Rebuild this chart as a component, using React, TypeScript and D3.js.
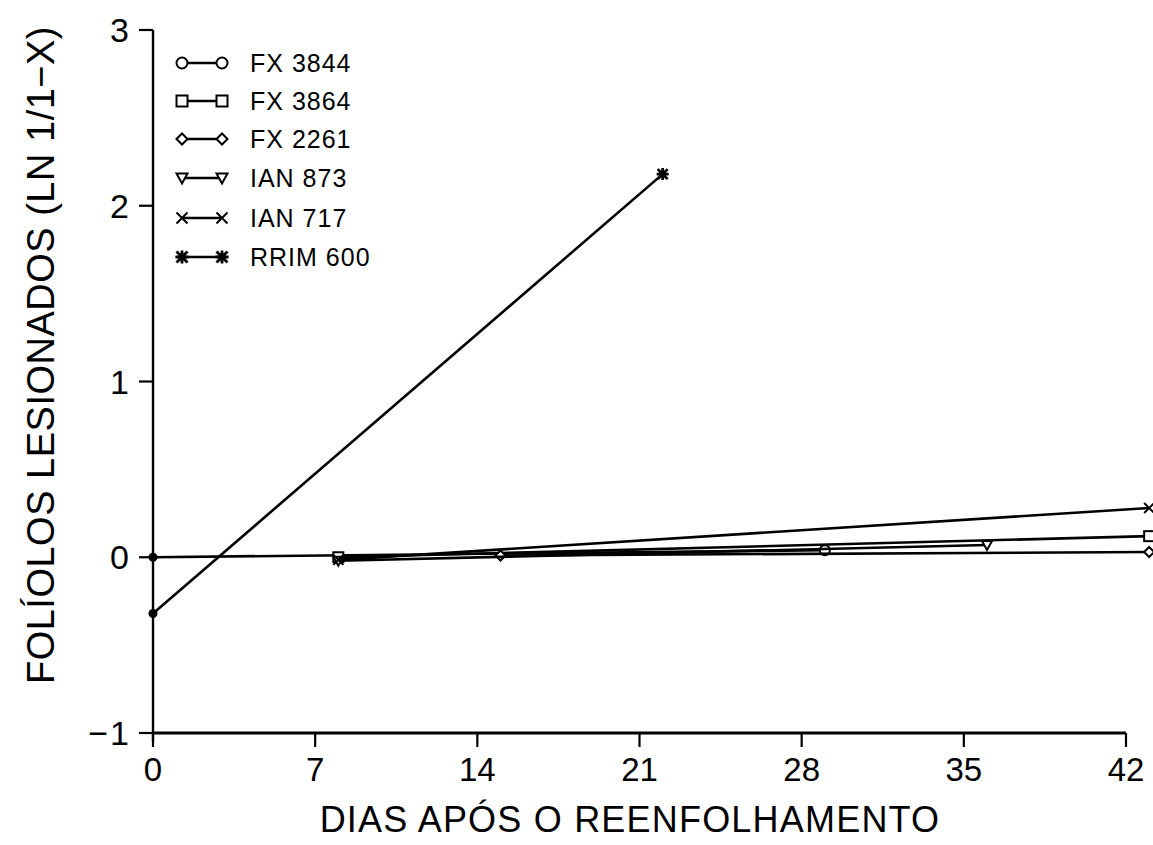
import React from "react";
import * as d3 from "d3";

const seriesNames = ["FX 3844", "FX 3864", "FX 2261", "IAN 873", "IAN 717", "RRIM 600"];
const symbols = ["circle", "square", "diamond", "triangle", "cross", "star"];
const fx3844Days = [0, 29];
const fx3844Vals = [0.0, 0.04];
const fx3864Days = [8, 43];
const fx3864Vals = [0.0, 0.12];
const fx2261Days = [15, 43];
const fx2261Vals = [0.01, 0.03];
const ian873Days = [8, 36];
const ian873Vals = [-0.02, 0.07];
const ian717Days = [8, 43];
const ian717Vals = [-0.015, 0.28];
const rrim600Days = [0, 22];
const rrim600Vals = [-0.32, 2.18];

const xTicks = [0, 7, 14, 21, 28, 35, 42];
const yTicks = [-1, 0, 1, 2, 3];

const allDays = [fx3844Days, fx3864Days, fx2261Days, ian873Days, ian717Days, rrim600Days];
const allVals = [fx3844Vals, fx3864Vals, fx2261Vals, ian873Vals, ian717Vals, rrim600Vals];

const W = 1153;
const H = 845;
const FONT = "'Liberation Sans', Arial, sans-serif";

const x = d3.scaleLinear().domain([0, 42]).range([153, 1126]);
const y = d3.scaleLinear().domain([-1, 3]).range([733, 30]);

function Marker({ type, cx, cy, s = 5 }: { type: string; cx: number; cy: number; s?: number }) {
  const st = { stroke: "#000", strokeWidth: 2, fill: "#fff" } as const;
  switch (type) {
    case "circle":
      return <circle cx={cx} cy={cy} r={s} {...st} />;
    case "square":
      return <rect x={cx - s} y={cy - s} width={2 * s} height={2 * s} {...st} />;
    case "diamond":
      return <path d={`M${cx - s},${cy}L${cx},${cy - s}L${cx + s},${cy}L${cx},${cy + s}Z`} {...st} />;
    case "triangle":
      return <path d={`M${cx - s},${cy - s * 0.8}L${cx + s},${cy - s * 0.8}L${cx},${cy + s}Z`} {...st} />;
    case "cross":
      return <path d={`M${cx - s},${cy - s}L${cx + s},${cy + s}M${cx - s},${cy + s}L${cx + s},${cy - s}`} stroke="#000" strokeWidth={2} fill="none" />;
    case "star":
      return (
        <path
          d={`M${cx - s},${cy - s}L${cx + s},${cy + s}M${cx - s},${cy + s}L${cx + s},${cy - s}M${cx - s * 1.2},${cy}L${cx + s * 1.2},${cy}M${cx},${cy - s * 1.2}L${cx},${cy + s * 1.2}`}
          stroke="#000"
          strokeWidth={2.8}
          fill="none"
        />
      );
    default:
      return null;
  }
}

export default function App() {
  const line = d3
    .line<[number, number]>()
    .x((d) => x(d[0]))
    .y((d) => y(d[1]));

  const legendY = [63, 101, 139, 178, 218, 257];

  return (
    <svg width={W} height={H} style={{ position: "absolute", left: 0, top: 0, background: "#fff" }}>
      <rect x={0} y={0} width={W} height={H} fill="#fff" />
      {/* axes */}
      <line x1={x(0)} x2={x(0)} y1={y(3)} y2={y(-1) + 8} stroke="#000" strokeWidth={2.4} />
      <line x1={x(0)} x2={x(42)} y1={y(-1)} y2={y(-1)} stroke="#000" strokeWidth={2.8} />
      {yTicks.map((t) => (
        <g key={"yt" + t}>
          <line x1={x(0) - 14} x2={x(0)} y1={y(t)} y2={y(t)} stroke="#000" strokeWidth={2.2} />
          <text x={x(0) - 22} y={y(t)} dy="0.36em" textAnchor="end" fontFamily={FONT} fontSize={34} letterSpacing={2}>
            {t < 0 ? "\u2212" + Math.abs(t) : t}
          </text>
        </g>
      ))}
      {xTicks.map((t) => (
        <g key={"xt" + t}>
          <line x1={x(t)} x2={x(t)} y1={y(-1)} y2={y(-1) + 14} stroke="#000" strokeWidth={2.2} />
          <text x={x(t)} y={y(-1) + 48} textAnchor="middle" fontFamily={FONT} fontSize={33}>
            {t}
          </text>
        </g>
      ))}
      {/* titles */}
      <text
        transform={`translate(54, ${355}) rotate(-90)`}
        textAnchor="middle"
        fontFamily={FONT}
        fontSize={38}
        letterSpacing={0.5}
      >
        FOLÍOLOS LESIONADOS (LN 1/1−X)
      </text>
      <text x={630} y={832} textAnchor="middle" fontFamily={FONT} fontSize={36} letterSpacing={1.2}>
        DIAS APÓS O REENFOLHAMENTO
      </text>
      {/* series */}
      {seriesNames.map((name, i) => {
        const pts: [number, number][] = allDays[i].map((d, j) => [d, allVals[i][j]]);
        return (
          <g key={name}>
            <path d={line(pts) || ""} fill="none" stroke="#000" strokeWidth={2.6} />
            {pts.map((p, j) =>
              p[0] === 0 ? (
                <circle key={j} cx={x(p[0])} cy={y(p[1])} r={4.5} fill="#000" />
              ) : (
                <Marker key={j} type={symbols[i]} cx={x(p[0])} cy={y(p[1])} s={5} />
              )
            )}
          </g>
        );
      })}
      {/* legend */}
      {seriesNames.map((name, i) => (
        <g key={"lg" + name}>
          <line x1={182} x2={222} y1={legendY[i]} y2={legendY[i]} stroke="#000" strokeWidth={2.5} />
          <Marker type={symbols[i]} cx={182} cy={legendY[i]} s={5.5} />
          <Marker type={symbols[i]} cx={222} cy={legendY[i]} s={5.5} />
          <text x={250} y={legendY[i]} dy="0.36em" fontFamily={FONT} fontSize={25} letterSpacing={1}>
            {name}
          </text>
        </g>
      ))}
    </svg>
  );
}
